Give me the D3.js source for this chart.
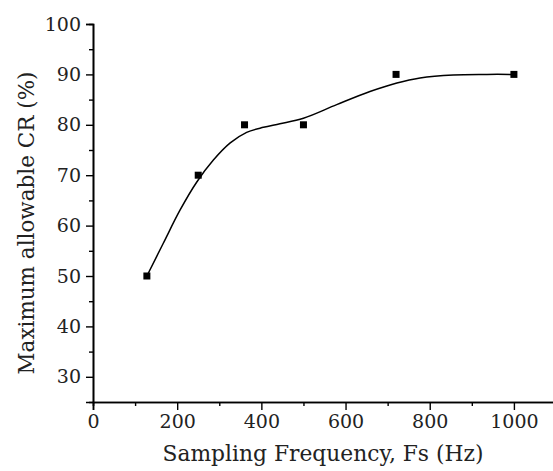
<!DOCTYPE html>
<html>
<head>
<meta charset="utf-8">
<script src="https://cdn.jsdelivr.net/npm/d3@7"></script>
<style>
  body { margin: 0; background: #fff; }
  svg { display: block; }
  svg text { font-family: "DejaVu Serif", "Liberation Serif", "Times New Roman", serif; }
</style>
</head>
<body>
<div id="chart"></div>
<script>
// measured points
const freq = [128, 250, 360, 500, 720, 1000];
const allowableCR = [50, 70, 80, 80, 90, 90];

// fitted curve
const fitFreq = [128, 167, 207, 247, 286, 326, 365, 405, 444, 500, 579, 658, 722, 777, 856, 936, 1000];
const fitCR = [50, 56.5, 63.1, 68.7, 73.0, 76.4, 78.5, 79.5, 80.2, 81.3, 84.0, 86.6, 88.3, 89.3, 89.9, 90.0, 90];

const xTicks = [0, 200, 400, 600, 800, 1000];
const yTicks = [30, 40, 50, 60, 70, 80, 90, 100];

const width = 553, height = 471;
const fontFamily = '"DejaVu Serif", "Liberation Serif", serif';

const svg = d3.select('#chart').append('svg')
    .attr('width', width)
    .attr('height', height);

const x = d3.scaleLinear().domain([0, 1100]).range([93, 556]);
const y = d3.scaleLinear().domain([25, 100]).range([402, 24]);

// 坐标轴
const xAxis = svg.append('g')
    .attr('transform', `translate(0,${y(25)})`);
xAxis.call(d3.axisBottom(x).tickValues(d3.range(100, 1100, 200)).tickSize(4).tickFormat(''));
xAxis.call(g => g.append('g').call(d3.axisBottom(x).tickValues(xTicks).tickSize(8).tickPadding(5).tickFormat(d3.format('d'))));

const yAxis = svg.append('g')
    .attr('transform', `translate(${x(0)},0)`);
yAxis.call(d3.axisLeft(y).tickValues(d3.range(35, 100, 10)).tickSize(4).tickFormat(''));
yAxis.call(g => g.append('g').call(d3.axisLeft(y).tickValues(yTicks).tickSize(7).tickPadding(5)));

svg.selectAll('g').attr('font-family', fontFamily);
svg.selectAll('.domain')
    .attr('stroke', '#000')
    .attr('stroke-width', 1.6);
svg.selectAll('.tick line')
    .attr('stroke', '#000')
    .attr('stroke-width', 1.4);
svg.selectAll('.tick text')
    .attr('fill', '#222')
    .attr('font-family', fontFamily)
    .style('font-size', '19px');

// 拟合曲线
const line = d3.line()
    .x((d, i) => x(fitFreq[i]))
    .y(d => y(d))
    .curve(d3.curveCatmullRom.alpha(0.5));

svg.append('path')
    .datum(fitCR)
    .attr('fill', 'none')
    .attr('stroke', '#000')
    .attr('stroke-width', 1.5)
    .attr('d', line);

// 数据点
svg.append('g').selectAll('rect')
    .data(freq)
    .join('rect')
    .attr('x', d => x(d) - 3.5)
    .attr('y', (d, i) => y(allowableCR[i]) - 3.5)
    .attr('width', 7)
    .attr('height', 7)
    .attr('fill', '#000');

// 轴标题
svg.append('text')
    .attr('x', 323)
    .attr('y', 461)
    .attr('text-anchor', 'middle')
    .attr('fill', '#222')
    .attr('font-family', fontFamily)
    .style('font-size', '21.8px')
    .text('Sampling Frequency, Fs (Hz)');

svg.append('text')
    .attr('transform', 'translate(34,223) rotate(-90)')
    .attr('text-anchor', 'middle')
    .attr('fill', '#222')
    .attr('font-family', fontFamily)
    .style('font-size', '21.5px')
    .text('Maximum allowable CR (%)');
</script>
</body>
</html>
